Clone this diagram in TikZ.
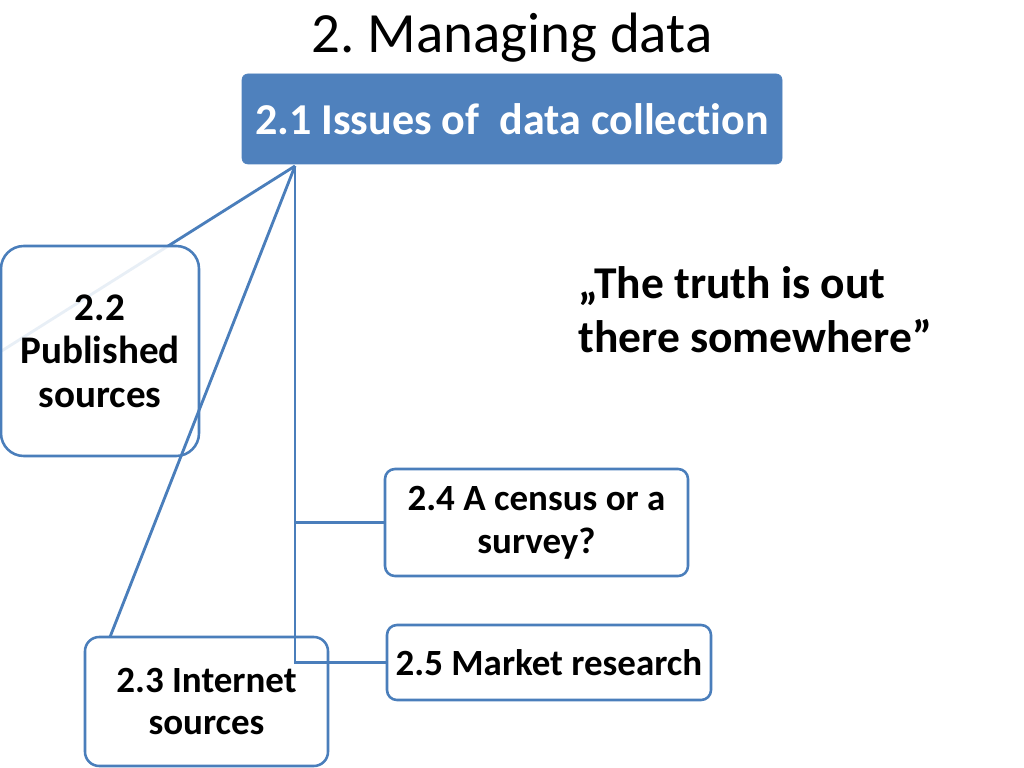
\documentclass[tikz,border=0pt]{standalone}
\usepackage{fontspec}
\setmainfont{Carlito}[Ligatures={NoCommon}]
\frenchspacing
\definecolor{accent}{HTML}{4F81BD}
\definecolor{edge}{HTML}{4A7EBB}
\begin{document}
\begin{tikzpicture}[x=0.703125pt,y=-0.703125pt,
  conn/.style={draw=edge,line width=2pt},
  box/.style={draw=edge,line width=1.8pt,align=center,inner sep=0pt,
    font=\fontsize{26}{30}\selectfont\bfseries},
  headbox/.style={fill=accent,draw=accent,rounded corners=4pt,text=white,
    font=\fontsize{31}{36}\selectfont\bfseries,inner sep=0pt}]
\useasboundingbox (0,0) rectangle (1024,768);
% title
\node[font=\fontsize{40}{48}\selectfont] (title) at (512,38) {2. Managing data};
% header box
\node[headbox,minimum width=540*0.703125pt,minimum height=90*0.703125pt] (b21) at (512,119) {2.1 Issues of\ \ data collection};
\coordinate (apex) at (295,166);
\coordinate (c0) at (0,352);
% line under box 2.2
\draw[conn] (apex) -- (c0);
% box 2.2
\node[box,fill=white,fill opacity=0.88,text opacity=1,rounded corners=16pt,
  font=\fontsize{27.5}{30.5}\selectfont\bfseries,
  minimum width=198*0.703125pt,minimum height=210*0.703125pt] (b22) at (100,351)
  {2.2\\Published\\sources};
% boxes
\node[box,rounded corners=10pt,minimum width=243*0.703125pt,minimum height=129*0.703125pt] (b23) at (206.5,701.5) {2.3 Internet\\sources};
\node[box,rounded corners=7pt,minimum width=303*0.703125pt,minimum height=107*0.703125pt] (b24) at (536.5,522.5) {2.4 A census or a\\survey?};
\node[box,rounded corners=7pt,minimum width=324*0.703125pt,minimum height=75*0.703125pt] (b25) at (549,662.5) {2.5 Market research};
% connectors
\coordinate (e3) at (110,637);
\draw[conn] (apex) -- (e3);
\draw[conn] (apex) |- (b25.west);
\draw[conn] (apex |- b24.west) -- (b24.west);
% quote
\node[anchor=west,align=left,inner sep=0pt,font=\fontsize{32}{38}\selectfont\bfseries] (quote) at (578,310)
  {„The truth is out\\there somewhere”};
\end{tikzpicture}
\end{document}
